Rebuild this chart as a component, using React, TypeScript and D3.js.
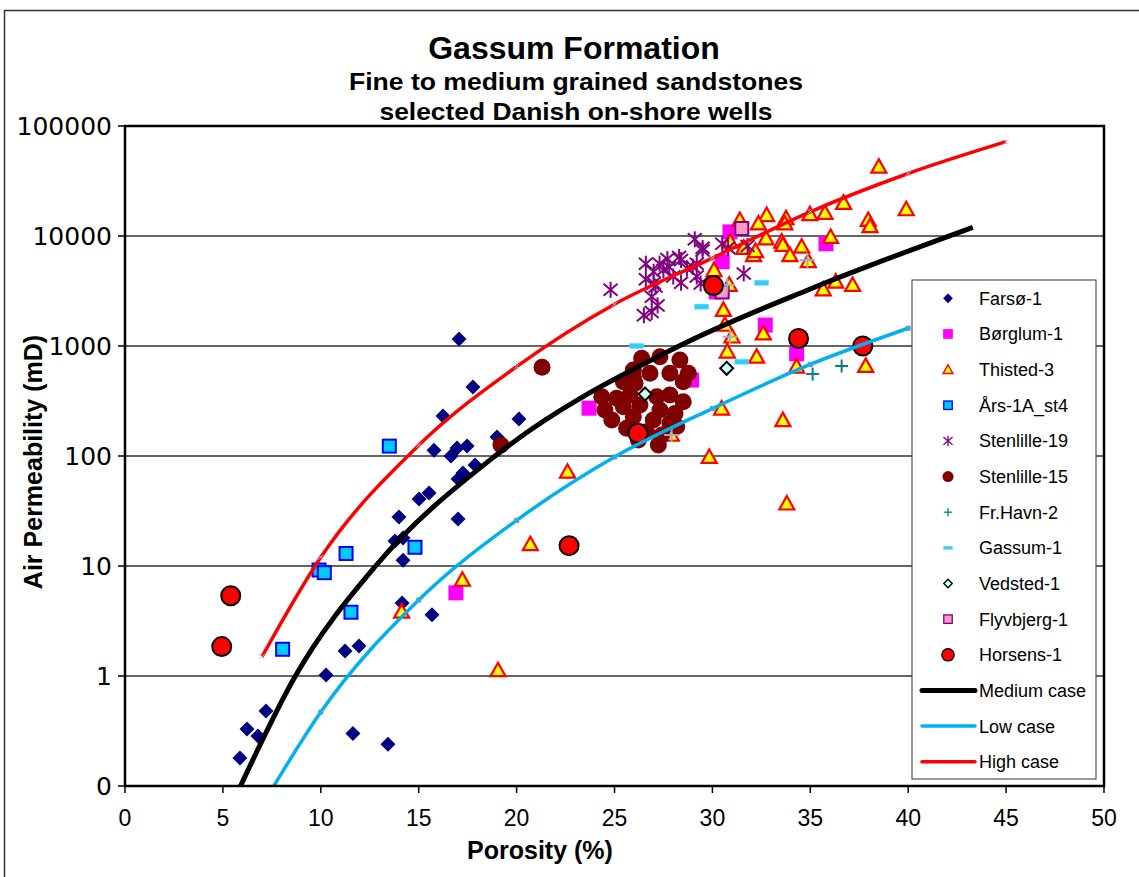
import React from "react";
import * as d3 from "d3";

// ---------- data (porosity %, air permeability mD) ----------
const farsoe: [number, number][] = [
  [5.87, 0.18], [6.23, 0.33], [6.79, 0.285], [7.2, 0.48], [10.27, 1.02], [11.24, 1.69],
  [11.95, 1.87], [11.64, 0.3], [13.43, 0.24], [13.99, 27.9], [13.79, 16.9], [14.2, 18],
  [14.2, 11.3], [14.15, 4.6], [15.02, 40.6], [15.53, 46.1], [15.68, 3.6], [17.01, 26.7],
  [17.01, 61.8], [17.26, 70], [15.78, 113], [16.65, 100], [16.96, 118], [17.47, 123],
  [17.06, 1158], [16.24, 231], [17.77, 424], [19.0, 149], [20.12, 217], [17.88, 82.8],
];
const borglum: [number, number][] = [
  [16.9, 5.7], [23.7, 272], [28.94, 490], [30.5, 5840], [30.9, 10900], [30.2, 3100],
  [35.8, 8500], [32.7, 1550], [34.3, 850],
];
const thisted: [number, number][] = [
  [38.5, 42700], [39.9, 17500], [37.96, 14000], [38.05, 12300], [36.7, 20000], [35.75, 16200],
  [34.98, 15800], [33.76, 14500], [33.7, 13000], [32.77, 15500], [32.35, 13000], [31.4, 14000],
  [32.74, 9500], [33.54, 8900], [33.6, 8300], [34.56, 8000], [33.96, 6700], [32.1, 6700],
  [31.6, 7800], [32.2, 7300], [36.04, 9800], [34.9, 5900], [30.08, 4900], [30.86, 3600],
  [30.56, 2130], [30.64, 1560], [35.66, 3270], [36.3, 3850], [37.16, 3590], [32.6, 1300],
  [31.0, 1220], [30.76, 890], [32.26, 800], [34.3, 650], [37.83, 660], [30.47, 270],
  [33.6, 212], [29.84, 98], [33.8, 37], [30.9, 8900], [27.9, 156], [22.6, 72], [20.7, 15.8],
  [17.23, 7.5], [14.13, 3.85], [19.05, 1.13],
];
const aars: [number, number][] = [
  [13.5, 123], [9.91, 9.2], [10.18, 8.7], [11.29, 13], [14.81, 14.8], [11.54, 3.8], [8.05, 1.75],
];
const stenlille19: [number, number][] = [
  [24.8, 3240], [26.6, 5600], [26.6, 4040], [26.5, 1900], [26.9, 2040], [27.2, 2340],
  [27.1, 3470], [27.5, 4900], [27.7, 6170], [28.0, 4280], [28.4, 6050], [28.4, 3760],
  [29.0, 5250], [29.2, 4280], [29.1, 9330], [29.5, 7800], [29.4, 3700], [27.3, 5600],
  [27.0, 4730], [30.5, 8500], [31.6, 4570], [31.8, 8100], [30.8, 7800], [29.5, 7400],
  [27.0, 3720], [28.3, 6450], [28.7, 5080], [29.2, 5600], [27.8, 5200], [26.9, 2800],
];
const stenlille15: [number, number][] = [
  [26.39, 773], [27.32, 800], [28.34, 746], [25.96, 605], [26.81, 565], [27.83, 565],
  [28.51, 473], [25.45, 473], [26.05, 458], [24.35, 346], [25.11, 335], [25.79, 359],
  [27.16, 346], [27.83, 359], [28.51, 312], [24.51, 262], [25.45, 281], [26.3, 291],
  [27.32, 262], [28.09, 244], [24.86, 212], [25.96, 228], [26.98, 212], [27.83, 198],
  [25.62, 179], [26.64, 166], [27.41, 155], [28.18, 185], [27.24, 126], [26.22, 140],
  [28.77, 565], [25.96, 526], [21.3, 640], [19.2, 126],
];
const frHavn: [number, number][] = [[35.12, 556], [36.6, 658]];
const gassum: [number, number][] = [[26.13, 1000], [29.45, 2280], [32.52, 3760], [31.5, 720]];
const vedsted: [number, number][] = [[26.56, 366], [30.73, 627]];
const flyvbjerg: [number, number][] = [[31.5, 11700], [30.5, 3100]];
const horsens: [number, number][] = [
  [5.4, 5.37], [4.94, 1.85], [22.68, 15.3], [26.2, 161], [30.05, 3540], [34.4, 1170], [37.68, 1000],
];
const extraPlus: [number, number][] = [[30.9, 1216], [30.76, 3590], [34.85, 6030], [27.92, 155]];

const mediumCase: [number, number][] = [
  [5.9, 0.1], [8.7, 1], [12.8, 10], [18.9, 100], [28.3, 1000], [35, 3300], [43.3, 12000],
];
const lowCase: [number, number][] = [
  [7.6, 0.1], [10, 0.47], [15, 4.9], [20, 26], [25, 98], [30, 270], [35, 680], [40, 1450],
];
const highCase: [number, number][] = [
  [7, 1.5], [10, 12], [15, 125], [20, 650], [25, 2400], [30, 6300], [35, 16600], [40, 37000], [45, 72000],
];

const xTicks = [0, 5, 10, 15, 20, 25, 30, 35, 40, 45, 50];
const yTicks = [0.1, 1, 10, 100, 1000, 10000, 100000];
const yTickLabels = ["0", "1", "10", "100", "1000", "10000", "100000"];

const legendNames = [
  "Farsø-1", "Børglum-1", "Thisted-3", "Års-1A_st4", "Stenlille-19", "Stenlille-15",
  "Fr.Havn-2", "Gassum-1", "Vedsted-1", "Flyvbjerg-1", "Horsens-1", "Medium case", "Low case", "High case",
];

// ---------- layout ----------
const W = 1139, H = 877;
const PL = 125, PR = 1104, PT = 126, PB = 786;
const x = d3.scaleLinear().domain([0, 50]).range([PL, PR]);
const y = d3.scaleLog().domain([0.1, 100000]).range([PB, PT]);

const ARIAL = "'Liberation Sans', Arial, sans-serif";

type Kind = "diamond" | "square" | "triangle" | "aars" | "star" | "darkcircle" | "plus" | "dash" | "vedsted" | "flyv" | "horsens" | "greyplus";

function Marker({ kind, cx, cy, s = 1 }: { kind: Kind; cx: number; cy: number; s?: number }) {
  const t = `translate(${cx},${cy}) scale(${s})`;
  switch (kind) {
    case "diamond":
      return <path transform={t} d="M0,-7.5L7.5,0L0,7.5L-7.5,0Z" fill="#000080" />;
    case "square":
      return <rect transform={t} x={-7.5} y={-7.5} width={15} height={15} fill="#FF00FF" />;
    case "triangle":
      return <path transform={t} d="M0,-7.5L7.5,6L-7.5,6Z" fill="#FFFF00" stroke="#FF0000" strokeWidth={2.2} strokeLinejoin="miter" />;
    case "aars":
      return <rect transform={t} x={-6.5} y={-6.5} width={13} height={13} fill="#00CCFF" stroke="#0000FF" strokeWidth={2} />;
    case "star":
      return (
        <g transform={t} stroke="#800080" strokeWidth={2}>
          <line x1={-7} y1={-6} x2={7} y2={6} />
          <line x1={-7} y1={6} x2={7} y2={-6} />
          <line x1={0} y1={-8} x2={0} y2={8} />
        </g>
      );
    case "darkcircle":
      return <circle transform={t} r={8.5} fill="#800000" />;
    case "plus":
      return (
        <g transform={t} stroke="#008080" strokeWidth={2}>
          <line x1={-6.5} y1={0} x2={6.5} y2={0} />
          <line x1={0} y1={-6.5} x2={0} y2={6.5} />
        </g>
      );
    case "dash":
      return <rect transform={t} x={-7} y={-2.5} width={14} height={5} fill="#33CCFF" stroke="#66DDFF" strokeWidth={0.5} />;
    case "vedsted":
      return <path transform={t} d="M0,-6.5L6.5,0L0,6.5L-6.5,0Z" fill="#CCFFFF" stroke="#000" strokeWidth={2} />;
    case "flyv":
      return <rect transform={t} x={-6.5} y={-6.5} width={13} height={13} fill="#FF99CC" stroke="#800080" strokeWidth={2} />;
    case "horsens":
      return <circle transform={t} r={9.5} fill="#FF0000" stroke="#000" strokeWidth={2} />;
    case "greyplus":
      return (
        <g transform={t} stroke="#A8A8C8" strokeWidth={2}>
          <line x1={-7.5} y1={0} x2={7.5} y2={0} />
          <line x1={0} y1={-7.5} x2={0} y2={7.5} />
        </g>
      );
  }
  return null;
}

const scatterSeries: { data: [number, number][]; kind: Kind }[] = [
  { data: farsoe, kind: "diamond" },
  { data: borglum, kind: "square" },
  { data: thisted, kind: "triangle" },
  { data: aars, kind: "aars" },
  { data: stenlille19, kind: "star" },
  { data: stenlille15, kind: "darkcircle" },
  { data: frHavn, kind: "plus" },
  { data: gassum, kind: "dash" },
  { data: vedsted, kind: "vedsted" },
  { data: flyvbjerg, kind: "flyv" },
  { data: extraPlus, kind: "greyplus" },
  { data: horsens, kind: "horsens" },
];

const legendKinds: Kind[] = ["diamond", "square", "triangle", "aars", "star", "darkcircle", "plus", "dash", "vedsted", "flyv", "horsens"];

const lineGen = d3
  .line<[number, number]>()
  .x((d) => x(d[0]))
  .y((d) => y(d[1]))
  .curve(d3.curveMonotoneX);

const curves = [
  { data: mediumCase, color: "#000000", width: 5 },
  { data: lowCase, color: "#00B0F0", width: 3.5 },
  { data: highCase, color: "#FF0000", width: 3.5 },
];

export default function App() {
  const legX = 912, legY = 280, legW = 184, legH = 499;
  const rowH = 35.65;
  return (
    <svg width={W} height={H} style={{ position: "absolute", left: 0, top: 0, background: "#fff" }} fontFamily={ARIAL}>
      <rect x={0} y={0} width={W} height={H} fill="#fff" />
      <rect x={4.5} y={10.5} width={W + 10} height={H + 10} fill="none" stroke="#333" strokeWidth={1.5} />

      {/* titles */}
      <text x={574} y={59} textAnchor="middle" fontWeight="bold" fontSize={32}>Gassum Formation</text>
      <text x={576} y={90} textAnchor="middle" fontWeight="bold" fontSize={24.5} textLength={454} lengthAdjust="spacingAndGlyphs">
        Fine to medium grained sandstones
      </text>
      <text x={576} y={120} textAnchor="middle" fontWeight="bold" fontSize={24.5} textLength={393} lengthAdjust="spacingAndGlyphs">
        selected Danish on-shore wells
      </text>

      {/* gridlines */}
      {yTicks.slice(1, -1).map((v) => (
        <line key={v} x1={PL} x2={PR} y1={y(v)} y2={y(v)} stroke="#333" strokeWidth={1.3} />
      ))}

      {/* scatter */}
      {scatterSeries.map((s, i) => (
        <g key={i}>
          {s.data.map((d, j) => (
            <Marker key={j} kind={s.kind} cx={x(d[0])} cy={y(d[1])} />
          ))}
        </g>
      ))}

      {/* curves */}
      {curves.map((c, i) => (
        <path key={i} d={lineGen(c.data) || ""} fill="none" stroke={c.color} strokeWidth={c.width} />
      ))}
      {lowCase.slice(1).map((d, i) => (
        <rect key={"lm" + i} x={x(d[0]) - 2.5} y={y(d[1]) - 2.5} width={5} height={5} fill="#33AAD8" />
      ))}
      {highCase.map((d, i) => (
        <g key={"hm" + i} transform={`translate(${x(d[0])},${y(d[1])})`} stroke="#B8B8D8" strokeWidth={1}>
          <line x1={-2.5} y1={-2.5} x2={2.5} y2={2.5} />
          <line x1={-2.5} y1={2.5} x2={2.5} y2={-2.5} />
        </g>
      ))}

      {/* frame */}
      <rect x={PL} y={PT} width={PR - PL} height={PB - PT} fill="none" stroke="#000" strokeWidth={2.5} />

      {/* y axis ticks & labels */}
      {yTicks.map((v, i) => (
        <g key={v}>
          <line x1={PL - 7} x2={PL} y1={y(v)} y2={y(v)} stroke="#000" strokeWidth={1.5} />
          <text x={112} y={y(v) + 9} textAnchor="end" fontFamily="'DejaVu Sans', Verdana, sans-serif" fontSize={25}>
            {yTickLabels[i]}
          </text>
        </g>
      ))}
      {/* x axis ticks & labels */}
      {xTicks.map((v) => (
        <g key={v}>
          <line x1={x(v)} x2={x(v)} y1={PB} y2={PB + 7} stroke="#000" strokeWidth={1.5} />
          <text x={x(v)} y={826} textAnchor="middle" fontSize={23}>{v}</text>
        </g>
      ))}

      <text x={540} y={859} textAnchor="middle" fontWeight="bold" fontSize={25}>Porosity (%)</text>
      <text transform="translate(42,462) rotate(-90)" textAnchor="middle" fontWeight="bold" fontSize={25}>
        Air Permeability (mD)
      </text>

      {/* legend */}
      <rect x={legX} y={legY} width={legW} height={legH} fill="#fff" stroke="#333" strokeWidth={1} />
      {legendNames.map((name, i) => {
        const cy = 298.3 + i * rowH;
        return (
          <g key={name}>
            {i < legendKinds.length ? (
              <Marker kind={legendKinds[i]} cx={948} cy={cy} s={0.65} />
            ) : (
              <line x1={922} x2={975} y1={cy} y2={cy} stroke={curves[i - legendKinds.length].color} strokeWidth={curves[i - legendKinds.length].width} strokeLinecap="round" />
            )}
            <text x={979} y={cy + 6.5} fontSize={18}>{name}</text>
          </g>
        );
      })}
    </svg>
  );
}
